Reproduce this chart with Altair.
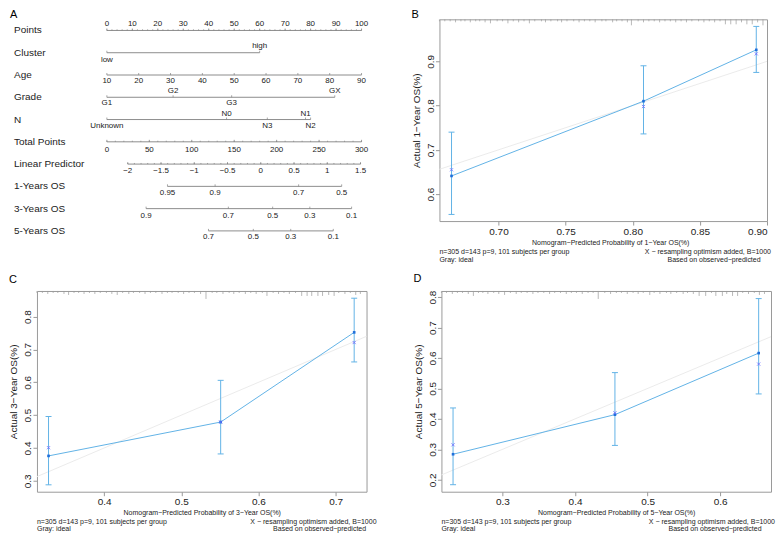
import altair as alt
import pandas as pd

FONT = "Liberation Sans"
TXT = "#222222"
NOMO_LINE = "#808080"
LINEBLUE = "#62B3E6"
DOTBLUE = "#1F6FDB"
XBLUE = "#6B6BFF"
IDEAL = "#EBEBEB"
FRAME = "#9A9A9A"

# ---------------- Panel A : nomogram (positions on the 0-100 Points scale) ----------------
row_names = ["Points", "Cluster", "Age", "Grade", "N", "Total Points",
             "Linear Predictor", "1-Years OS", "3-Years OS", "5-Years OS"]

points_labels = [0, 10, 20, 30, 40, 50, 60, 70, 80, 90, 100]
cluster_levels = ["low", "high"]
cluster_points = [0, 60]
cluster_side = [1, -1]          # 1 = label under the line, -1 = above
age_labels = [10, 20, 30, 40, 50, 60, 70, 80, 90]
age_points = [0, 12.5, 25, 37.5, 50, 62.5, 75, 87.5, 100]
grade_levels = ["G1", "G2", "G3", "GX"]
grade_points = [0, 26, 49, 89.5]
grade_side = [1, -1, 1, -1]
n_levels = ["Unknown", "N0", "N3", "N1", "N2"]
n_points = [0, 47, 63, 78, 80]
n_side = [1, -1, 1, -1, 1]
total_labels = [0, 50, 100, 150, 200, 250, 300]
lp_labels = [-2, -1.5, -1, -0.5, 0, 0.5, 1, 1.5]
lp_texts = ["−2", "−1.5", "−1", "−0.5", "0", "0.5", "1", "1.5"]
lp_anchor_points = [8.2, 99.6]   # Points position of LP = -2 and LP = 1.5
os1_labels = ["0.95", "0.9", "0.7", "0.5"]
os1_points = [23.8, 42.5, 75.3, 92.2]
os3_labels = ["0.9", "0.7", "0.5", "0.3", "0.1"]
os3_points = [15.4, 47.7, 65.1, 79.7, 96.1]
os5_labels = ["0.7", "0.5", "0.3", "0.1"]
os5_points = [39.9, 57.5, 72.2, 88.9]

lines, ticks, labs = [], [], []


def add_axis(row, positions, texts, sides, minor=(), off=0.29):
    allpos = list(positions) + list(minor)
    lines.append({"row": row, "x0": min(allpos), "x1": max(allpos)})
    for p, t, s in zip(positions, texts, sides):
        ticks.append({"row": row, "x": p, "y2": row - 0.09})
        labs.append({"row": row, "x": p, "t": str(t), "y": row + s * off})
    for m in minor:
        ticks.append({"row": row, "x": m, "y2": row - 0.05})


def lp_pos(v):
    a, b = lp_anchor_points
    return a + (v + 2) * (b - a) / 3.5


add_axis(0, points_labels, points_labels, [-1] * 11, minor=[v for v in range(0, 101, 2)])
add_axis(1, cluster_points, cluster_levels, cluster_side, off=0.31)
add_axis(2, age_points, age_labels, [1] * 9, off=0.25)
add_axis(3, grade_points, grade_levels, grade_side, off=0.26)
add_axis(4, n_points, n_levels, n_side, off=0.27)
add_axis(5, [v / 3 for v in total_labels], total_labels, [1] * 7,
         minor=[v / 3 for v in range(0, 301, 10)], off=0.35)
add_axis(6, [lp_pos(v) for v in lp_labels], lp_texts, [1] * 8,
         minor=[lp_pos(-2 + k / 10) for k in range(0, 36)], off=0.30)
add_axis(7, os1_points, os1_labels, [1] * 4, off=0.30)
add_axis(8, os3_points, os3_labels, [1] * 5, off=0.33)
add_axis(9, os5_points, os5_labels, [1] * 4, off=0.27)

xsA = alt.Scale(domain=[-27.45, 100])
ysA = alt.Scale(domain=[-0.5, 9.5], reverse=True)

a_lines = alt.Chart(pd.DataFrame(lines)).mark_rule(color=NOMO_LINE, strokeWidth=0.9).encode(
    x=alt.X("x0:Q", scale=xsA, axis=None), x2="x1:Q",
    y=alt.Y("row:Q", scale=ysA, axis=None))
a_ticks = alt.Chart(pd.DataFrame(ticks)).mark_rule(color=NOMO_LINE, strokeWidth=0.7).encode(
    x=alt.X("x:Q", scale=xsA, axis=None),
    y=alt.Y("row:Q", scale=ysA, axis=None), y2="y2:Q")
a_labels = alt.Chart(pd.DataFrame(labs)).mark_text(fontSize=8, color=TXT, baseline="middle").encode(
    x=alt.X("x:Q", scale=xsA, axis=None),
    y=alt.Y("y:Q", scale=ysA, axis=None), text="t:N")
a_names = alt.Chart(pd.DataFrame({"name": row_names, "row": list(range(10))})).mark_text(
    align="left", baseline="middle", fontSize=10, color=TXT).encode(
    x=alt.value(-23), y=alt.Y("row:Q", scale=ysA, axis=None), text="name:N")

panelA = alt.layer(a_lines, a_ticks, a_labels, a_names).properties(
    width=325, height=223, view=alt.ViewBackground(stroke=None),
    title=alt.TitleParams("A", anchor="start", fontSize=11, fontWeight="normal",
                          offset=-1, dx=-4, color="#000"))

# ---------------- Calibration panels ----------------
b_pred = [0.665, 0.808, 0.892]
b_obs = [0.641, 0.810, 0.926]
b_corr = [0.655, 0.798, 0.917]
b_lo = [0.554, 0.736, 0.875]
b_hi = [0.740, 0.890, 0.979]
b_rug_x = [0.656, 0.660, 0.664, 0.668, 0.672, 0.675, 0.679, 0.683, 0.686, 0.690,
           0.694, 0.699, 0.703, 0.707, 0.711, 0.715, 0.719, 0.723, 0.727, 0.732,
           0.735, 0.739, 0.744, 0.747, 0.751, 0.756, 0.760, 0.764, 0.768, 0.772,
           0.777, 0.780, 0.785, 0.788, 0.792, 0.796, 0.799, 0.804, 0.808, 0.812,
           0.816, 0.820, 0.824, 0.828, 0.832, 0.836, 0.840, 0.844, 0.849, 0.853,
           0.857, 0.861, 0.865, 0.869, 0.873, 0.877, 0.881, 0.885, 0.889, 0.893, 0.897]
b_rug_h = [2, 2, 2, 3, 2, 2, 3, 2, 2, 3,
           4, 2, 2, 4, 2, 3, 2, 4, 2, 2,
           3, 2, 2, 3, 2, 2, 3, 2, 2, 3,
           2, 2, 3, 2, 2, 3, 6, 2, 3, 2,
           2, 3, 2, 2, 3, 2, 3, 2, 2, 3,
           2, 3, 2, 5, 5, 5, 3, 5, 5, 3, 6]

c_pred = [0.328, 0.551, 0.724]
c_obs = [0.376, 0.479, 0.752]
c_corr = [0.401, 0.479, 0.721]
c_lo = [0.288, 0.382, 0.662]
c_hi = [0.496, 0.606, 0.856]
c_rug_x = [0.313, 0.320, 0.327, 0.334, 0.340, 0.348, 0.354, 0.361, 0.367, 0.374,
           0.381, 0.388, 0.395, 0.403, 0.410, 0.417, 0.424, 0.432, 0.438, 0.446,
           0.453, 0.460, 0.467, 0.475, 0.482, 0.488, 0.496, 0.503, 0.510, 0.517,
           0.525, 0.532, 0.540, 0.546, 0.554, 0.562, 0.568, 0.575, 0.583, 0.590,
           0.597, 0.605, 0.611, 0.619, 0.626, 0.633, 0.640, 0.648, 0.656, 0.663,
           0.669, 0.677, 0.683, 0.691, 0.698, 0.704, 0.712, 0.719, 0.726, 0.732]
c_rug_h = [2, 2, 3, 2, 2, 3, 4, 2, 2, 3,
           2, 3, 2, 2, 3, 4, 2, 3, 2, 2,
           3, 2, 2, 3, 2, 2, 2, 3, 2, 2,
           3, 8, 2, 2, 3, 2, 3, 2, 3, 2,
           3, 2, 5, 2, 3, 2, 3, 2, 5, 5,
           5, 5, 5, 4, 5, 2, 3, 2, 4, 3]

d_pred = [0.232, 0.455, 0.653]
d_obs = [0.284, 0.414, 0.616]
d_corr = [0.315, 0.420, 0.580]
d_lo = [0.184, 0.313, 0.482]
d_hi = [0.436, 0.552, 0.795]
d_rug_x = [0.216, 0.223, 0.231, 0.238, 0.245, 0.253, 0.260, 0.267, 0.273, 0.280,
           0.288, 0.295, 0.303, 0.311, 0.319, 0.326, 0.334, 0.342, 0.349, 0.357,
           0.365, 0.372, 0.380, 0.388, 0.395, 0.402, 0.410, 0.418, 0.425, 0.432,
           0.441, 0.449, 0.457, 0.464, 0.472, 0.480, 0.487, 0.494, 0.503, 0.509,
           0.517, 0.526, 0.532, 0.540, 0.549, 0.555, 0.563, 0.571, 0.580, 0.588,
           0.594, 0.603, 0.609, 0.617, 0.624, 0.631, 0.639, 0.647, 0.654, 0.661]
d_rug_h = [2, 2, 3, 2, 2, 3, 5, 2, 2, 3,
           2, 3, 4, 2, 3, 2, 2, 3, 2, 2,
           3, 2, 2, 3, 2, 2, 3, 2, 2, 8,
           2, 3, 2, 2, 3, 2, 3, 2, 4, 2,
           3, 2, 3, 2, 3, 2, 3, 5, 5, 2,
           5, 5, 3, 5, 5, 2, 3, 2, 4, 3]

ideal_line = [0.0, 1.0]
note_left = "n=305 d=143 p=9, 101 subjects per group\nGray: ideal"
note_right = "X − resampling optimism added, B=1000"
note_right2 = "Based on observed−predicted"
XPATH = "M-1,-1L1,1M-1,1L1,-1"


def calib(letter, W, H, xdom, ydom, xvals, xfmt, yvals, xtitle, ytitle,
          pred, obs, corr, lo, hi, rug_x, rug_h, title_shift, right_end, center2,
          note_y, letter_offset):
    xsc = alt.Scale(domain=xdom, nice=False, zero=False)
    ysc = alt.Scale(domain=ydom, nice=False, zero=False)
    xax = alt.Axis(values=xvals, format=xfmt, title=xtitle, domain=False, grid=False,
                   tickSize=4, tickColor=FRAME, labelFontSize=10, labelColor=TXT,
                   labelPadding=1, titleFontSize=7, titleFontWeight="normal",
                   titleColor=TXT, titlePadding=2, titleX=W / 2 + title_shift)
    yax = alt.Axis(values=yvals, format=".1f", title=ytitle, domain=False, grid=False,
                   tickSize=4, tickColor=FRAME, labelFontSize=10, labelColor=TXT,
                   labelAngle=270, labelPadding=0, titleFontSize=10,
                   titleFontWeight="normal", titleColor=TXT, titlePadding=4)

    def X(f):
        return alt.X(f, scale=xsc, axis=xax)

    def Y(f):
        return alt.Y(f, scale=ysc, axis=yax)

    df = pd.DataFrame({"x": pred, "y": obs, "c": corr, "lo": lo, "hi": hi})
    ideal = alt.Chart(pd.DataFrame({"x": ideal_line, "y": ideal_line})).mark_line(
        color=IDEAL, strokeWidth=1, clip=True).encode(x=X("x:Q"), y=Y("y:Q"))
    rug = alt.Chart(pd.DataFrame({"x": rug_x, "h": rug_h})).mark_rule(
        color="#9a9a9a", strokeWidth=0.7).encode(
        x=X("x:Q"), y=alt.Y("h:Q", scale=None), y2=alt.value(0))
    bars = alt.Chart(df).mark_rule(color=LINEBLUE, strokeWidth=1).encode(
        x=X("x:Q"), y=Y("lo:Q"), y2="hi:Q")
    cap_lo = alt.Chart(df).mark_tick(orient="horizontal", size=6, thickness=1,
                                     color=LINEBLUE, opacity=1).encode(x=X("x:Q"), y=Y("lo:Q"))
    cap_hi = alt.Chart(df).mark_tick(orient="horizontal", size=6, thickness=1,
                                     color=LINEBLUE, opacity=1).encode(x=X("x:Q"), y=Y("hi:Q"))
    line = alt.Chart(df).mark_line(color=LINEBLUE, strokeWidth=1).encode(x=X("x:Q"), y=Y("y:Q"))
    dots = alt.Chart(df).mark_square(size=7, color=DOTBLUE, opacity=1).encode(x=X("x:Q"), y=Y("y:Q"))
    crosses = alt.Chart(df).mark_point(shape=XPATH, size=10, color=XBLUE, strokeWidth=0.8,
                                       filled=False, opacity=1).encode(x=X("x:Q"), y=Y("c:Q"))
    n1 = alt.Chart(pd.DataFrame({"t": [note_left]})).mark_text(
        align="left", baseline="top", fontSize=7, lineBreak="\n", lineHeight=7.5,
        color=TXT).encode(x=alt.value(0), y=alt.value(H + note_y), text="t:N")
    n2 = alt.Chart(pd.DataFrame({"t": [note_right]})).mark_text(
        align="right", baseline="top", fontSize=7, color=TXT).encode(
        x=alt.value(W + right_end), y=alt.value(H + note_y), text="t:N")
    n3 = alt.Chart(pd.DataFrame({"t": [note_right2]})).mark_text(
        align="center", baseline="top", fontSize=7, color=TXT).encode(
        x=alt.value(W - center2), y=alt.value(H + note_y + 7.5), text="t:N")
    return alt.layer(ideal, rug, bars, cap_lo, cap_hi, line, dots, crosses, n1, n2, n3).properties(
        width=W, height=H,
        title=alt.TitleParams(letter, anchor="start", fontSize=11, fontWeight="normal",
                              offset=letter_offset, color="#000"))


panelB = calib("B", 328, 202, [0.656, 0.90], [0.539, 0.995],
               [0.70, 0.75, 0.80, 0.85, 0.90], ".2f", [0.6, 0.7, 0.8, 0.9],
               "Nomogram−Predicted Probability of 1−Year OS(%)", "Actual 1−Year OS(%)",
               b_pred, b_obs, b_corr, b_lo, b_hi, b_rug_x, b_rug_h, 7, 4, 53, 27, -1)
panelC = calib("C", 330, 201, [0.313, 0.740], [0.267, 0.878],
               [0.4, 0.5, 0.6, 0.7], ".1f", [0.3, 0.4, 0.5, 0.6, 0.7, 0.8],
               "Nomogram−Predicted Probability of 3−Year OS(%)", "Actual 3−Year OS(%)",
               c_pred, c_obs, c_corr, c_lo, c_hi, c_rug_x, c_rug_h, 0, 10, 47, 26, 6)
panelD = calib("D", 330, 201, [0.216, 0.670], [0.161, 0.820],
               [0.3, 0.4, 0.5, 0.6], ".1f", [0.2, 0.3, 0.4, 0.5, 0.6, 0.7, 0.8],
               "Nomogram−Predicted Probability of 5−Year OS(%)", "Actual 5−Year OS(%)",
               d_pred, d_obs, d_corr, d_lo, d_hi, d_rug_x, d_rug_h, 10, 4, 56, 26, 6)

row1 = alt.hconcat(panelA, panelB, spacing=42)
row2 = alt.hconcat(panelC, panelD, spacing=35)
chart = alt.vconcat(row1, row2, spacing=9).properties(padding=0).configure(
    font=FONT).configure_view(stroke=FRAME, strokeWidth=1)

chart.save("out.html", embed_options={"renderer": "svg", "actions": False})
